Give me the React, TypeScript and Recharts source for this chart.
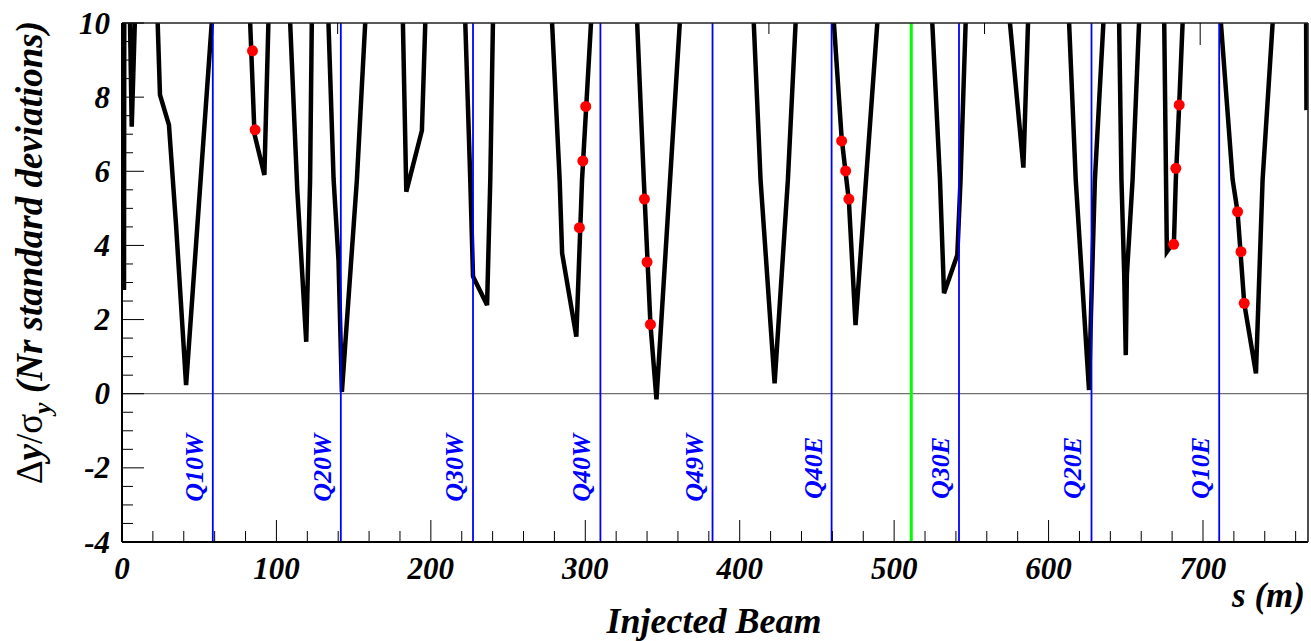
import React from 'react';
import { ComposedChart, Line, Scatter, XAxis, YAxis, ReferenceLine } from 'recharts';

const serif = '"Liberation Serif", "Times New Roman", serif';

// beam envelope: [s (m), dy/sigma_y]; the points at 12-14 sit above the frame and get clipped
const envelope: [number, number][] = [
  [1.3, 2.8], [1.5, 12],
  [5.2, 10], [6.3, 7.2], [8.3, 10], [15, 14],
  [23.1, 10], [24.6, 8.06], [30.4, 7.25], [35, 4.55], [41.5, 0.23], [58.1, 10], [70, 14],
  [83, 10], [85.8, 7.0], [92.2, 5.9], [94.8, 10], [101, 14],
  [108.9, 10], [113.5, 5.5], [119.3, 1.4], [121.8, 5.77], [122.9, 10], [128, 14],
  [133.7, 10], [137, 5.8], [140.2, 3.6], [142.4, 0.05], [152.1, 5.77], [157.5, 10], [170, 14],
  [181.9, 10], [184.1, 5.45], [194.2, 7.1], [196.4, 10], [210, 14],
  [222.3, 10], [225.5, 5.8], [227.3, 3.16], [236.4, 2.39], [238.5, 5.8], [240.2, 10], [260, 14],
  [278.5, 10], [283.4, 5.77], [285, 3.79], [294.2, 1.54], [297.9, 5.77], [303.7, 10], [318, 14],
  [333.6, 10], [337.9, 5.77], [342.2, 1.87], [346.1, -0.15], [361.2, 10], [385, 14],
  [409.1, 10], [413.5, 5.77], [422.6, 0.28], [431.2, 5.77], [436.2, 10], [448, 14],
  [461, 10], [466, 6.9], [470.7, 5.2], [475, 1.85], [489.1, 10], [507, 14],
  [524.7, 10], [529.7, 5.77], [532.3, 2.71], [540.9, 3.74], [543, 5.77], [546.3, 10], [560, 14],
  [575, 10], [583.7, 6.1], [586.7, 10], [600, 14],
  [613.3, 10], [617.6, 5.77], [626.2, 0.1], [627.5, 2.2], [630, 5.77], [635.5, 10], [640, 14],
  [645.7, 10], [647.2, 5.77], [649, 3.2], [650, 1.04], [650.7, 3.2], [654.4, 5.77], [658.6, 10], [667, 14],
  [674.9, 10], [676.6, 3.83], [681.2, 4.1], [682.4, 5.77], [684.6, 7.8], [686.8, 10], [699, 14],
  [711.6, 10], [719.2, 5.77], [722.4, 4.9], [726.7, 2.44], [734.3, 0.55], [738.6, 5.77], [745.1, 10], [756, 14],
  [766.6, 12], [767, 7.65],
];

// measured points (red)
const bpmS = [84.5, 86.2, 296.2, 298.4, 300.3, 338.3, 340, 342.2, 466, 468.6, 470.7, 681, 682.4, 684.6, 722.4, 724.6, 726.7];
const bpmY = [9.25, 7.12, 4.48, 6.28, 7.75, 5.25, 3.55, 1.87, 6.82, 6.01, 5.25, 4.03, 6.08, 7.79, 4.91, 3.83, 2.44];

const quadNames = ['Q10W', 'Q20W', 'Q30W', 'Q40W', 'Q49W', 'Q40E', 'Q30E', 'Q20E', 'Q10E'];
const quadS = [58.8, 141.7, 227.3, 309.8, 382.4, 459.5, 542.0, 627.8, 710.5];
const ipS = 511.1;

const xTicks = [0, 20, 40, 60, 80, 100, 120, 140, 160, 180, 200, 220, 240, 260, 280, 300, 320, 340, 360, 380,
  400, 420, 440, 460, 480, 500, 520, 540, 560, 580, 600, 620, 640, 660, 680, 700, 720, 740, 760];
const yTicks = [-4, -3.5, -3, -2.5, -2, -1.5, -1, -0.5, 0, 0.5, 1, 1.5, 2, 2.5, 3, 3.5, 4, 4.5, 5, 5.5,
  6, 6.5, 7, 7.5, 8, 8.5, 9, 9.5, 10];

const data = envelope.map(([s, y]) => ({ s, y }));
const bpms = bpmS.map((s, i) => ({ s, y: bpmY[i] }));

const labelFont = { fontFamily: serif, fontWeight: 'bold' as const, fontStyle: 'italic' as const, fill: '#000' };

function BottomTick(props: any) {
  const { x, y, payload } = props;
  const major = payload.value % 100 === 0;
  return (
    <g>
      <line x1={x} x2={x} y1={y} y2={y - (major ? 22 : 11)} stroke="#000" strokeWidth={1} />
      {major && (
        <text x={x} y={y + 37} textAnchor="middle" fontSize={31} {...labelFont}>
          {payload.value}
        </text>
      )}
    </g>
  );
}

function TopTick(props: any) {
  const { x, y, payload } = props;
  const major = payload.value % 100 === 0;
  return <line x1={x} x2={x} y1={y} y2={y + (major ? 22 : 11)} stroke="#000" strokeWidth={1} />;
}

function LeftTick(props: any) {
  const { x, y, payload } = props;
  const major = payload.value % 2 === 0;
  return (
    <g>
      <line x1={x} x2={x + (major ? 22 : 11)} y1={y} y2={y} stroke="#000" strokeWidth={1} />
      {major && (
        <text x={x - 12} y={y + 10.5} textAnchor="end" fontSize={31} {...labelFont}>
          {payload.value}
        </text>
      )}
    </g>
  );
}

function RightTick(props: any) {
  const { x, y, payload } = props;
  const major = payload.value % 2 === 0;
  return <line x1={x - (major ? 21 : 10)} x2={x} y1={y} y2={y} stroke="#000" strokeWidth={1} />;
}

const quadLabel = (name: string) => (props: any) => {
  const vb = props.viewBox;
  const cx = vb.x - 10;
  const cy = vb.y + (vb.height * 12) / 14;
  return (
    <text
      x={cx}
      y={cy}
      transform={`rotate(-90 ${cx} ${cy})`}
      textAnchor="middle"
      fontFamily={serif}
      fontWeight="bold"
      fontStyle="italic"
      fontSize={26}
      fill="#0000ff"
    >
      {name}
    </text>
  );
};

const RedDot = (p: any) => <circle cx={p.cx} cy={p.cy} r={5.5} fill="#ff0000" />;

export default function App() {
  return (
    <div style={{ position: 'absolute', left: 0, top: 0, width: 1311, height: 641, background: '#fff' }}>
      <ComposedChart width={1311} height={641} data={data} margin={{ top: 22, right: 2, bottom: 98, left: 121 }}>
        <XAxis
          dataKey="s"
          type="number"
          domain={[0, 768]}
          ticks={xTicks}
          interval={0}
          allowDataOverflow
          height={1}
          tickSize={0}
          tickMargin={0}
          tickLine={false}
          tick={<BottomTick />}
          axisLine={{ stroke: '#000', strokeWidth: 2 }}
        />
        <XAxis
          xAxisId="top"
          orientation="top"
          type="number"
          domain={[0, 768]}
          ticks={xTicks}
          interval={0}
          height={1}
          tickSize={0}
          tickMargin={0}
          tickLine={false}
          tick={<TopTick />}
          axisLine={{ stroke: '#222', strokeWidth: 1.6 }}
        />
        <YAxis
          type="number"
          domain={[-4, 10]}
          ticks={yTicks}
          interval={0}
          allowDataOverflow
          width={1}
          tickSize={0}
          tickMargin={0}
          tickLine={false}
          tick={<LeftTick />}
          axisLine={{ stroke: '#000', strokeWidth: 2 }}
        />
        <YAxis
          yAxisId="right"
          orientation="right"
          type="number"
          domain={[-4, 10]}
          ticks={yTicks}
          interval={0}
          width={1}
          tickSize={0}
          tickMargin={0}
          tickLine={false}
          tick={<RightTick />}
          axisLine={{ stroke: '#222', strokeWidth: 1.6 }}
        />
        <ReferenceLine y={0} stroke="#707070" strokeWidth={1.2} />
        <Line
          dataKey="y"
          type="linear"
          stroke="#000"
          strokeWidth={4.5}
          dot={false}
          activeDot={false}
          isAnimationActive={false}
        />
        {quadS.map((s, i) => (
          <ReferenceLine key={quadNames[i]} x={s} stroke="#0000ff" strokeWidth={1.8} label={quadLabel(quadNames[i])} />
        ))}
        <ReferenceLine x={ipS} stroke="#00ff00" strokeWidth={3} />
        <Scatter data={bpms} dataKey="y" shape={RedDot} isAnimationActive={false} />
        <text
          x={42}
          y={21}
          transform="rotate(-90 42 21)"
          textAnchor="end"
          fontSize={37}
          {...labelFont}
        >
          <tspan fontStyle="normal" fontWeight="normal">Δ</tspan>
          <tspan>y</tspan>
          <tspan fontStyle="normal" fontWeight="normal">/σ</tspan>
          <tspan fontSize={26} dy={9}>y</tspan>
          <tspan dy={-9}> (Nr standard deviations)</tspan>
        </text>
        <text x={1305} y={607} textAnchor="end" fontSize={35} {...labelFont}>
          s (m)
        </text>
        <text x={714} y={633} textAnchor="middle" fontSize={36} {...labelFont}>
          Injected Beam
        </text>
      </ComposedChart>
    </div>
  );
}
